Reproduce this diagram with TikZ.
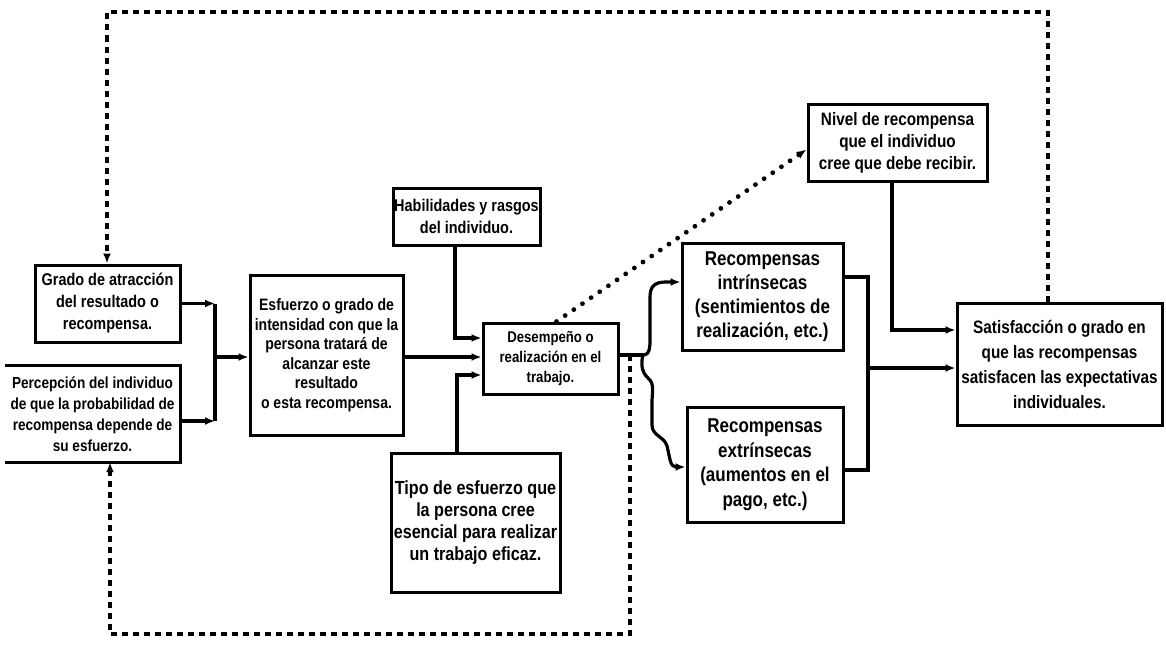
\documentclass[tikz,border=0pt]{standalone}
\usepackage{fontspec}
\setmainfont{Liberation Sans}[FakeStretch=0.85]
\usetikzlibrary{arrows.meta}
\newcommand\txtsize[2]{\fontsize{#1}{#2}\selectfont\bfseries}
\begin{document}
\begin{tikzpicture}[x=1pt,y=-1pt,
  box/.style={draw,line width=3pt,inner sep=0pt,align=center},
  conn/.style={line width=3.2pt},
  arr/.style={-{Latex[length=10pt,width=8pt]}},
  fb/.style={line width=3.2pt,dash pattern=on 6pt off 5pt},
  dots/.style={line width=4.8pt,line cap=round,dash pattern=on 0pt off 10.5pt}]
\fill[white] (0,0) rectangle (1166,645);
\useasboundingbox (0,0) rectangle (1166,645);

% boxes
\node[box,minimum width=145pt,minimum height=77pt,font=\txtsize{17}{22}] (grado) at (107.5,303.5)
  {Grado de atracción\\del resultado o\\recompensa.};
\node[inner sep=0pt,align=center,minimum width=175pt,minimum height=96pt,font=\txtsize{16}{21}] (percep) at (92.5,414)
  {Percepción del individuo\\de que la probabilidad de\\recompensa depende de\\su esfuerzo.};
\draw[line width=3pt] (percep.north west) -- (percep.north east) -- (percep.south east) -- (percep.south west);
\node[box,minimum width=153pt,minimum height=160pt,font=\txtsize{16.5}{19.5}] (esfuerzo) at (326.5,355)
  {Esfuerzo o grado de\\intensidad con que la\\persona tratará de\\alcanzar este\\resultado\\o esta recompensa.};
\node[box,minimum width=147pt,minimum height=57pt,font=\txtsize{17}{22}] (habil) at (466.5,216.5)
  {Habilidades y rasgos\\del individuo.};
\node[box,minimum width=135pt,minimum height=71pt,font=\txtsize{15.5}{20}] (desemp) at (550.5,358.5)
  {Desempeño o\\realización en el\\trabajo.};
\node[box,minimum width=169pt,minimum height=139pt,font=\txtsize{19}{22}] (tipo) at (475.5,522.5)
  {Tipo de esfuerzo que\\la persona cree\\esencial para realizar\\un trabajo eficaz.};
\node[box,minimum width=179pt,minimum height=77pt,font=\txtsize{18}{22}] (nivel) at (897.5,142.5)
  {Nivel de recompensa\\que el individuo\\cree que debe recibir.};
\node[box,minimum width=161pt,minimum height=107pt,font=\txtsize{20}{24}] (intr) at (762.5,296.5)
  {Recompensas\\intrínsecas\\(sentimientos de\\realización, etc.)};
\node[box,minimum width=156pt,minimum height=115pt,font=\txtsize{20}{24.5}] (extr) at (765,464.5)
  {Recompensas\\extrínsecas\\(aumentos en el\\pago, etc.)};
\node[box,minimum width=205pt,minimum height=122pt,font=\txtsize{18}{25}] (satis) at (1059.5,364)
  {Satisfacción o grado en\\que las recompensas\\satisfacen las expectativas\\individuales.};

% left junction
\coordinate (jL) at (215,357);
\coordinate (pe) at ([yshift=-7pt]percep.east);
\draw[conn,arr] (grado.east) -- (grado.east -| jL);
\draw[conn,arr] (pe) -- (pe -| jL);
\draw[conn] (grado.east -| jL) -- (pe -| jL);
\draw[conn,arr] (jL) -- (jL -| esfuerzo.west);

% inputs to performance
\draw[conn,arr] (esfuerzo.east |- jL) -- (jL -| desemp.west);
\coordinate (hb) at (455,338);
\draw[conn,arr] (habil.south -| hb) -- (hb) -- (hb -| desemp.west);
\coordinate (tb) at (457,375);
\draw[conn,arr] (tipo.north -| tb) -- (tb) -- (tb -| desemp.west);

% performance to rewards
\coordinate (split) at (643,355);
\draw[conn] (desemp.east |- split) -- (split);
\coordinate (ia) at (666,282);
\draw[conn,arr] (split) .. controls (651,355) and (650,345) .. (650,330) -- (650,297)
  .. controls (650,286) and (655,282) .. (ia) -- (ia -| intr.west);
\coordinate (ea) at (676,467);
\draw[conn,arr] (split) .. controls (641,362) and (641,372) .. (648,378)
  .. controls (655,384) and (652,392) .. (652,402) -- (652,425)
  .. controls (652,436) and (664,436) .. (667,446)
  .. controls (670,458) and (670,467) .. (ea) -- (ea -| extr.west);

% rewards to satisfaction
\coordinate (jR) at (868,368);
\coordinate (ir) at ([yshift=19.5pt]intr.east);
\coordinate (er) at ([yshift=-5.5pt]extr.east);
\draw[conn] (ir) -- (ir -| jR) -- (er -| jR) -- (er);
\draw[conn,arr] (jR) -- (jR -| satis.west);
\coordinate (nb) at (892,330);
\draw[conn,arr] (nivel.south -| nb) -- (nb) -- (nb -| satis.west);

% perceived equitable reward
\draw[dots,arr] ([xshift=6pt]desemp.north) -- ([yshift=-7pt]nivel.west);

% feedback loops
\coordinate (tl) at (107,12);
\coordinate (tr) at (1048,12);
\draw[fb,arr] (satis.north -| tr) -- (tr) -- (tl) -- (grado.north -| tl);
\coordinate (bl) at (110,634);
\coordinate (br) at (630,634);
\draw[fb,arr] (split -| br) -- (br) -- (bl) -- (percep.south -| bl);
\end{tikzpicture}
\end{document}
